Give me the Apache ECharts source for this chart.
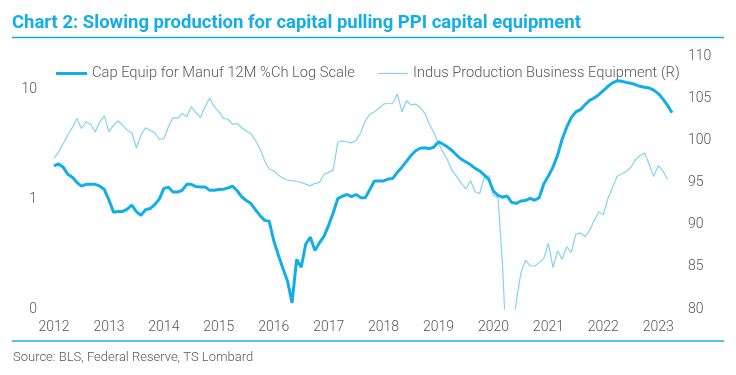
<!DOCTYPE html>
<html>
<head>
<meta charset="utf-8">
<script src="https://cdn.jsdelivr.net/npm/echarts@6/dist/echarts.min.js"></script>
<style>
  html, body { margin: 0; padding: 0; background: #fff; }
  #container { width: 736px; height: 375px; }
</style>
</head>
<body>
<div id="container"></div>
<script>
// monthly, Jan 2012 .. Apr 2023
var years = [2012, 2013, 2014, 2015, 2016, 2017, 2018, 2019, 2020, 2021, 2022, 2023];
var months = [];
years.forEach(function (y) {
  for (var m = 1; m <= 12; m++) {
    if (y === 2023 && m > 4) break;
    months.push(y + '-' + (m < 10 ? '0' + m : m));
  }
});

// Cap Equip for Manuf 12M %Ch (log scale, left)
var capEquip = [
  2.0, 2.09, 1.95, 1.68, 1.58, 1.42, 1.31, 1.36, 1.36, 1.36, 1.31, 1.22,
  0.98, 0.76, 0.77, 0.77, 0.81, 0.88, 0.77, 0.71, 0.80, 0.82, 0.89, 1.0,
  1.25, 1.28, 1.16, 1.16, 1.2, 1.36, 1.36, 1.3, 1.29, 1.29, 1.2, 1.2,
  1.22, 1.23, 1.26, 1.31, 1.19, 1.05, 0.97, 0.91, 0.80, 0.71, 0.64, 0.63,
  0.42, 0.31, 0.235, 0.18, 0.114, 0.283, 0.24, 0.39, 0.45, 0.34, 0.40, 0.46,
  0.58, 0.75, 1.01, 1.06, 1.10, 1.05, 1.10, 1.03, 1.03, 1.22, 1.46, 1.46,
  1.46, 1.52, 1.54, 1.75, 1.95, 2.2, 2.5, 2.75, 2.9, 2.93, 2.87, 2.97,
  3.32, 3.15, 2.97, 2.75, 2.5, 2.3, 2.17, 2.05, 1.9, 1.80, 1.65, 1.5,
  1.18, 1.08, 1.04, 1.065, 0.93, 0.914, 0.96, 0.97, 1.015, 0.975, 1.03, 1.38,
  1.62, 1.95, 2.5, 3.5, 4.5, 5.5, 6.2, 6.5, 7.2, 7.9, 8.3, 8.9,
  9.7, 10.6, 11.4, 11.9, 11.8, 11.5, 11.3, 11.0, 10.6, 10.4, 10.25, 9.8,
  9.1, 8.15, 7.15, 6.1
];

// Indus Production Business Equipment (right)
var indusProd = [
  97.9, 98.6, 99.6, 100.6, 101.5, 102.6, 101.4, 102.2, 101.9, 101.0, 102.2, 102.9,
  101.0, 101.8, 102.3, 101.8, 101.2, 100.9, 99.1, 100.6, 101.5, 101.2, 100.9, 100.1,
  100.2, 101.6, 102.7, 102.6, 103.2, 102.8, 104.0, 103.3, 102.7, 104.0, 105.0, 104.0,
  103.4, 102.6, 102.5, 101.9, 102.0, 101.5, 101.1, 100.8, 100.0, 99.0, 97.6, 96.6,
  96.4, 95.9, 95.5, 95.3, 95.2, 95.15, 95.0, 94.8, 94.6, 94.9, 95.0, 96.0,
  96.2, 96.5, 99.8, 99.9, 99.8, 99.7, 100.0, 100.9, 102.3, 103.1, 103.4, 103.8,
  104.3, 104.4, 104.4, 105.5, 103.4, 104.7, 104.2, 104.3, 103.9, 103.2, 101.9, 100.9,
  99.6, 98.6, 97.6, 96.4, 95.7, 94.9, 94.25, 95.2, 93.9, 93.7, 95.6, 95.8,
  93.45, 93.2, 85, 73, 76, 81, 84.3, 85.8, 85.1, 85.1, 85.5, 86.0,
  87.8, 84.9, 86.9, 85.9, 87.4, 86.7, 88.9, 89.0, 88.6, 89.3, 90.5, 91.5,
  91.2, 93.1, 94.4, 95.7, 96.0, 96.3, 96.8, 97.7, 98.2, 98.5, 97.2, 95.7,
  97.0, 96.4, 95.4
];

var titleText = 'Chart 2: Slowing production for capital pulling PPI capital equipment';
var sourceText = 'Source: BLS, Federal Reserve, TS Lombard';
var seriesNames = ['Cap Equip for Manuf 12M %Ch Log Scale', 'Indus Production Business Equipment (R)'];

var cyan = '#12AEE8';
var lightCyan = '#84D2F2';
var grey = '#595959';
var font = 'Roboto, "Noto Sans", sans-serif';

var legendText = { color: grey, fontSize: 14.7, fontWeight: 300, fontFamily: font };

var chart = echarts.init(document.getElementById('container'));
var option = {
  backgroundColor: '#fff',
  animation: false,
  textStyle: { fontFamily: font },
  graphic: [
    {
      type: 'text', x: 12, y: 23,
      style: { text: titleText, fill: cyan, font: 'bold 18.5px ' + font, verticalAlign: 'middle' }
    },
    {
      type: 'line', shape: { x1: 12, y1: 37.5, x2: 724, y2: 37.5 },
      style: { stroke: cyan, lineWidth: 1.5 }
    },
    {
      type: 'line', shape: { x1: 12, y1: 341, x2: 724, y2: 341 },
      style: { stroke: cyan, lineWidth: 1.5 }
    },
    {
      type: 'text', x: 13, y: 358,
      style: { text: sourceText, fill: grey, font: '300 13px ' + font, verticalAlign: 'middle' }
    }
  ],
  legend: [
    {
      left: 51, top: 61,
      icon: 'rect', itemWidth: 31, itemHeight: 3,
      textStyle: legendText,
      data: [seriesNames[0]]
    },
    {
      left: 373, top: 61,
      icon: 'rect', itemWidth: 30, itemHeight: 1.2,
      textStyle: legendText,
      data: [seriesNames[1]]
    }
  ],
  grid: { left: 54, right: 64, top: 56, bottom: 66 },
  xAxis: {
    type: 'category',
    boundaryGap: false,
    data: months,
    axisLine: { show: false },
    axisTick: { show: false },
    splitLine: { show: false },
    axisLabel: {
      color: grey, fontSize: 14, fontWeight: 300, margin: 11,
      interval: function (i) { return i % 12 === 0; },
      formatter: function (v) { return v.slice(0, 4); }
    }
  },
  yAxis: [
    {
      type: 'log', logBase: 10, min: 0.1, max: 20,
      axisLine: { show: false },
      axisTick: { show: false },
      splitLine: { show: false },
      axisLabel: {
        color: grey, fontSize: 14, fontWeight: 300, margin: 17,
        formatter: function (v) {
          var l = Math.log10(v);
          if (Math.abs(l - Math.round(l)) > 1e-6) return '';
          return String(Math.round(v));
        }
      }
    },
    {
      type: 'value', min: 80, max: 110, interval: 5,
      axisLine: { show: false },
      axisTick: { show: false },
      splitLine: { show: false },
      axisLabel: { color: grey, fontSize: 14, fontWeight: 300, margin: 16 }
    }
  ],
  series: [
    {
      name: seriesNames[0], type: 'line', yAxisIndex: 0,
      data: capEquip, symbol: 'none', z: 3,
      lineStyle: { color: cyan, width: 3 }, itemStyle: { color: cyan }
    },
    {
      name: seriesNames[1], type: 'line', yAxisIndex: 1,
      data: indusProd, symbol: 'none', z: 2,
      lineStyle: { color: lightCyan, width: 1.2 }, itemStyle: { color: lightCyan }
    }
  ]
};
chart.setOption(option);
</script>
</body>
</html>
